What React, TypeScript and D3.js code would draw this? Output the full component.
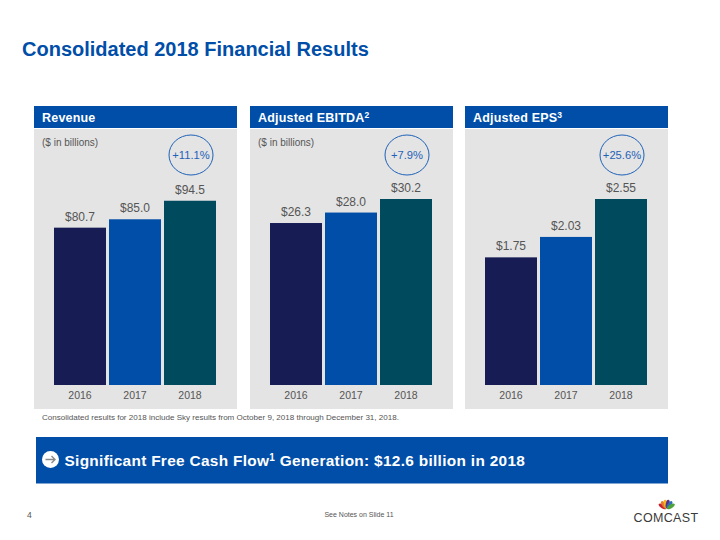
import React from "react";
import * as d3 from "d3";

const years = ["2016", "2017", "2018"];
const revenue = [80.7, 85.0, 94.5];
const ebitda = [26.3, 28.0, 30.2];
const eps = [1.75, 2.03, 2.55];
const revenueLabels = ["$80.7", "$85.0", "$94.5"];
const ebitdaLabels = ["$26.3", "$28.0", "$30.2"];
const epsLabels = ["$1.75", "$2.03", "$2.55"];
const barColors = ["#171C55", "#004EA8", "#004A5E"];
const FONT = "Liberation Sans, Arial, sans-serif";
const BLUE = "#004EA8";
const GREY = "#555555";

type PanelProps = {
  x: number; width: number; title: string; sup?: string; note?: string;
  values: number[]; labels: string[]; change: string; domainMax: number;
};

function Panel({ x, width, title, sup, note, values, labels, change, domainMax }: PanelProps) {
  const plotLeft = x + 20;
  const xScale = d3.scaleBand<string>().domain(years).range([plotLeft - 1.5, plotLeft + 163.5]).paddingInner(3 / 55).paddingOuter(1.5 / 55);
  const yScale = d3.scaleLinear().domain([0, domainMax]).range([385, 199]);
  const last = years[2];
  const cx = xScale(last)! + xScale.bandwidth() / 2 + 1;
  return (
    <g fontFamily={FONT}>
      <rect x={x} y={106} width={width} height={22} fill={BLUE} />
      <text x={x + 8} y={122} fontSize={12.5} fontWeight={700} fill="#fff" letterSpacing={0.2}>
        {title}
        {sup && <tspan fontSize={8.5} dy={-4}>{sup}</tspan>}
      </text>
      <rect x={x} y={129} width={width} height={280} fill="#E4E4E4" />
      {note && <text x={x + 8} y={146} fontSize={10} fill={GREY}>{note}</text>}
      {years.map((yr, i) => {
        const bx = xScale(yr)!;
        const top = yScale(values[i]);
        return (
          <g key={yr}>
            <rect x={bx} y={top} width={xScale.bandwidth()} height={385 - top} fill={barColors[i]} />
            <text x={bx + xScale.bandwidth() / 2} y={top - 7} textAnchor="middle" fontSize={12} fill={GREY}>{labels[i]}</text>
            <text x={bx + xScale.bandwidth() / 2} y={399} textAnchor="middle" fontSize={10.5} fill={GREY}>{yr}</text>
          </g>
        );
      })}
      <ellipse cx={cx} cy={155} rx={22} ry={20} fill="none" stroke="#1F62B8" strokeWidth={1} />
      <text x={cx} y={159} textAnchor="middle" fontSize={11.2} fill="#1F62B8">{change}</text>
    </g>
  );
}

function Logo() {
  const feathers = [
    { c: "#C8202F", a: -58 }, { c: "#E8762C", a: -34 }, { c: "#F2B81E", a: -11 },
    { c: "#5B2D8C", a: 11 }, { c: "#2E6FB7", a: 34 }, { c: "#4FA33B", a: 58 },
  ];
  return (
    <g>
      {feathers.map((f) => (
        <ellipse key={f.c} cx={0} cy={-5} rx={1.9} ry={4.3} fill={f.c} transform={`translate(666.7,509) rotate(${f.a})`} />
      ))}
      <text x={666} y={522} textAnchor="middle" fontSize={12.5} fontFamily={FONT} fill="#3A3A3A" letterSpacing={0.35}>COMCAST</text>
    </g>
  );
}

export default function App() {
  return (
    <svg width={720} height={540} style={{ position: "absolute", left: 0, top: 0, background: "#fff" }}>
      <text x={22} y={56} fontFamily={FONT} fontSize={20} fontWeight={700} fill={BLUE}>Consolidated 2018 Financial Results</text>
      <Panel x={34} width={203} title="Revenue" note="($ in billions)" values={revenue} labels={revenueLabels} change="+11.1%" domainMax={95.4} />
      <Panel x={250} width={203} title="Adjusted EBITDA" sup="2" note="($ in billions)" values={ebitda} labels={ebitdaLabels} change="+7.9%" domainMax={30.2} />
      <Panel x={465} width={203} title="Adjusted EPS" sup="3" values={eps} labels={epsLabels} change="+25.6%" domainMax={2.55} />
      <text x={42} y={420} fontFamily={FONT} fontSize={8.05} fill={GREY}>Consolidated results for 2018 include Sky results from October 9, 2018 through December 31, 2018.</text>
      <rect x={36} y={437} width={632} height={46.5} fill={BLUE} />
      <circle cx={50.5} cy={459.5} r={8.5} fill="#fff" />
      <path d="M45.5 459.5H55M51.5 456L55 459.5L51.5 463" fill="none" stroke="#8A8A8A" strokeWidth={1.4} />
      <text x={64.5} y={466} fontFamily={FONT} fontSize={15.4} fontWeight={700} fill="#fff" letterSpacing={0.31}>
        Significant Free Cash Flow<tspan fontSize={10} dy={-5}>1</tspan><tspan dy={5}> Generation: $12.6 billion in 2018</tspan>
      </text>
      <text x={27} y={518} fontFamily={FONT} fontSize={8.5} fill={GREY}>4</text>
      <text x={359} y={517} textAnchor="middle" fontFamily={FONT} fontSize={7} fill={GREY}>See Notes on Slide 11</text>
      <Logo />
    </svg>
  );
}
